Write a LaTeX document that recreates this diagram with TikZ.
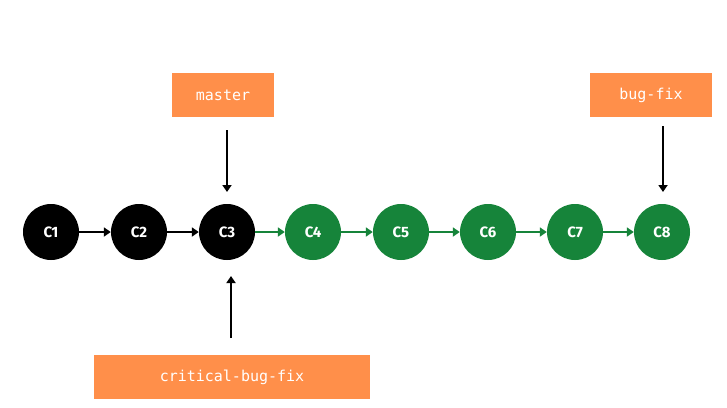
\documentclass[tikz,border=0pt]{standalone}
\usepackage{fontspec}
\setmainfont{Fira Sans}
\newfontfamily\monof{DejaVu Sans Mono}
\usetikzlibrary{arrows.meta}
\definecolor{gitgreen}{RGB}{22,132,58}
\definecolor{tagorange}{RGB}{255,143,74}
\begin{document}
\begin{tikzpicture}[x=1pt,y=-1pt,
  commit/.style={circle,minimum size=56pt,inner sep=0pt,text=white,font=\fontsize{15}{15}\selectfont\bfseries},
  old/.style={commit,fill=black},
  new/.style={commit,fill=gitgreen},
  tag/.style={fill=tagorange,text=white,font=\monof\fontsize{15}{15}\selectfont,minimum height=44pt,inner sep=0pt},
  link/.style={line width=2.6pt,-{Triangle[length=7pt,width=9pt]}},
]
\useasboundingbox (0,0) rectangle (727,407);
\fill[white] (0,0) rectangle (727,407);
\node[old] (c1) at (51,232) {C1};
\node[old] (c2) at (139,232) {C2};
\node[old] (c3) at (227,232) {C3};
\node[new] (c4) at (313,232) {C4};
\node[new] (c5) at (401,232) {C5};
\node[new] (c6) at (488,232) {C6};
\node[new] (c7) at (575,232) {C7};
\node[new] (c8) at (662,232) {C8};
\draw[link] (c1) -- (c2);
\draw[link] (c2) -- (c3);
\draw[link,gitgreen] (c3) -- (c4);
\draw[link,gitgreen] (c4) -- (c5);
\draw[link,gitgreen] (c5) -- (c6);
\draw[link,gitgreen] (c6) -- (c7);
\draw[link,gitgreen] (c7) -- (c8);
\node[tag,minimum width=102pt] (master) at (223,95) {master};
\node[tag,minimum width=122pt] (bugfix) at (651,95) {bug-fix};
\node[tag,minimum width=276pt] (crit) at (232,377) {critical-bug-fix};
\coordinate (m1) at (227,130);
\coordinate (m2) at (227,192);
\coordinate (b1) at (663,126);
\coordinate (b2) at (663,192);
\coordinate (k1) at (231,338);
\coordinate (k2) at (231,276);
\draw[link] (m1) -- (m2);
\draw[link] (b1) -- (b2);
\draw[link] (k1) -- (k2);
\end{tikzpicture}
\end{document}
